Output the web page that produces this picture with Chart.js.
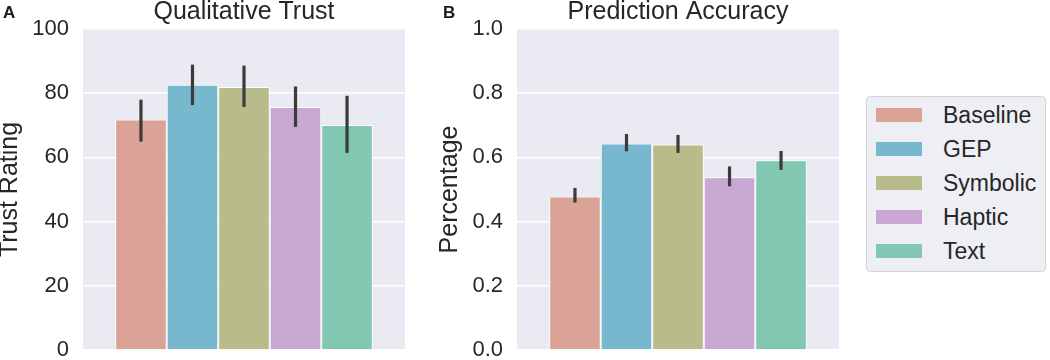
<!DOCTYPE html>
<html>
<head>
<meta charset="utf-8">
<script src="https://cdn.jsdelivr.net/npm/chart.js@4/dist/chart.umd.min.js"></script>
<style>
  html, body { margin: 0; padding: 0; background: #ffffff; }
  body { width: 1050px; height: 360px; position: relative; overflow: hidden; font-family: "Liberation Sans", Arial, sans-serif; color: #262626; }
  .panel { position: absolute; top: 0; }
  .letter { position: absolute; top: 4px; font-weight: bold; font-size: 17px; line-height: 1; color: #1a1a1a; }
  #legend { position: absolute; left: 866px; top: 96px; width: 180px; height: 176px; background: #eeeef5; border: 1px solid #d4d4da; border-radius: 4px; box-sizing: border-box; }
  .item { position: absolute; left: 0; height: 34px; width: 180px; }
  .patch { position: absolute; left: 9px; top: 10px; width: 46px; height: 14px; }
  .lab { position: absolute; left: 76px; top: 0; line-height: 34px; font-size: 23px; color: #262626; white-space: nowrap; }
</style>
</head>
<body>
<div class="panel" style="left:0px"><canvas id="cA" width="420" height="360"></canvas></div>
<div class="panel" style="left:420px"><canvas id="cB" width="420" height="360"></canvas></div>
<div class="letter" style="left:3px">A</div>
<div class="letter" style="left:443px">B</div>
<div id="legend"></div>
<script>
// ---- data ----
const categories = ['Baseline', 'GEP', 'Symbolic', 'Haptic', 'Text'];
const colors = ['#daa396', '#78b8cf', '#b8bc8a', '#c9a7d3', '#81c7b2'];

const trustMean = [71.8, 82.6, 81.9, 75.7, 70.1];
const trustLow  = [64.9, 76.3, 75.7, 69.5, 61.4];
const trustHigh = [78.0, 88.9, 88.6, 82.1, 79.2];
const trustTicks = [0, 20, 40, 60, 80, 100];

const accMean = [0.478, 0.643, 0.640, 0.538, 0.591];
const accLow  = [0.459, 0.619, 0.614, 0.510, 0.561];
const accHigh = [0.505, 0.673, 0.670, 0.572, 0.620];
const accTicks = [0.0, 0.2, 0.4, 0.6, 0.8, 1.0];

const FONT = '"Liberation Sans", Arial, sans-serif';
const TXT = '#262626';

const plotBg = {
  id: 'plotBg',
  beforeDraw(chart) {
    const {ctx, chartArea: a} = chart;
    ctx.save();
    ctx.fillStyle = '#eaeaf2';
    ctx.fillRect(a.left, a.top, a.right - a.left, a.bottom - a.top);
    ctx.restore();
  }
};

const errorBars = {
  id: 'errorBars',
  afterDatasetsDraw(chart, args, opts) {
    const {ctx} = chart;
    const y = chart.scales.y;
    chart.data.datasets.forEach((ds, i) => {
      const meta = chart.getDatasetMeta(i);
      meta.data.forEach((bar, j) => {
        ctx.save();
        ctx.strokeStyle = '#3b3b3b';
        ctx.lineWidth = 3.2;
        ctx.beginPath();
        ctx.moveTo(bar.x, y.getPixelForValue(opts.low[i]));
        ctx.lineTo(bar.x, y.getPixelForValue(opts.high[i]));
        ctx.stroke();
        ctx.restore();
      });
    });
  }
};

function makeChart(id, title, yTitle, means, low, high, ticks, min, max, axisWidth, yTitlePad, rightPad, fmt) {
  return new Chart(document.getElementById(id), {
    type: 'bar',
    data: {
      labels: [''],
      datasets: categories.map((c, i) => ({
        label: c,
        data: [means[i]],
        backgroundColor: colors[i],
        borderColor: '#ffffff',
        borderWidth: 1,
        categoryPercentage: 0.8,
        barPercentage: 1.0
      }))
    },
    options: {
      responsive: false,
      animation: false,
      layout: { padding: { left: 0, right: rightPad, top: 0, bottom: 10 } },
      plugins: {
        legend: { display: false },
        tooltip: { enabled: false },
        title: {
          display: true, text: title, fullSize: false,
          color: TXT, font: { family: FONT, size: 25, weight: 'normal', lineHeight: 1.2 },
          padding: { top: -3, bottom: 2 }
        },
        errorBars: { low: low, high: high }
      },
      scales: {
        x: { display: false, grid: { display: false } },
        y: {
          min: min, max: max,
          afterBuildTicks: s => { s.ticks = ticks.map(v => ({ value: v })); },
          afterFit: s => { s.width = axisWidth; },
          border: { display: false },
          grid: { color: '#ffffff', lineWidth: 1.4, drawTicks: true, tickLength: 14, tickColor: 'rgba(0,0,0,0)' },
          ticks: {
            color: TXT, padding: 0,
            font: { family: FONT, size: 22, lineHeight: 0.8 },
            callback: v => fmt(v)
          },
          title: {
            display: true, text: yTitle, color: TXT,
            font: { family: FONT, size: 25, lineHeight: 1.2 },
            padding: { top: yTitlePad, bottom: 0 }
          }
        }
      }
    },
    plugins: [plotBg, errorBars]
  });
}

makeChart('cA', 'Qualitative Trust', 'Trust Rating', trustMean, trustLow, trustHigh, trustTicks, 0, 100, 83, -5, 15, v => String(v));
makeChart('cB', 'Prediction Accuracy', 'Percentage', accMean, accLow, accHigh, accTicks, 0, 1, 97, 15, 1, v => Number(v).toFixed(1));

// legend
const leg = document.getElementById('legend');
categories.forEach((c, i) => {
  const it = document.createElement('div');
  it.className = 'item';
  it.style.top = (1.3 + i * 34) + 'px';
  const p = document.createElement('div');
  p.className = 'patch';
  p.style.background = colors[i];
  const t = document.createElement('div');
  t.className = 'lab';
  t.textContent = c;
  it.appendChild(p); it.appendChild(t);
  leg.appendChild(it);
});
</script>
</body>
</html>
